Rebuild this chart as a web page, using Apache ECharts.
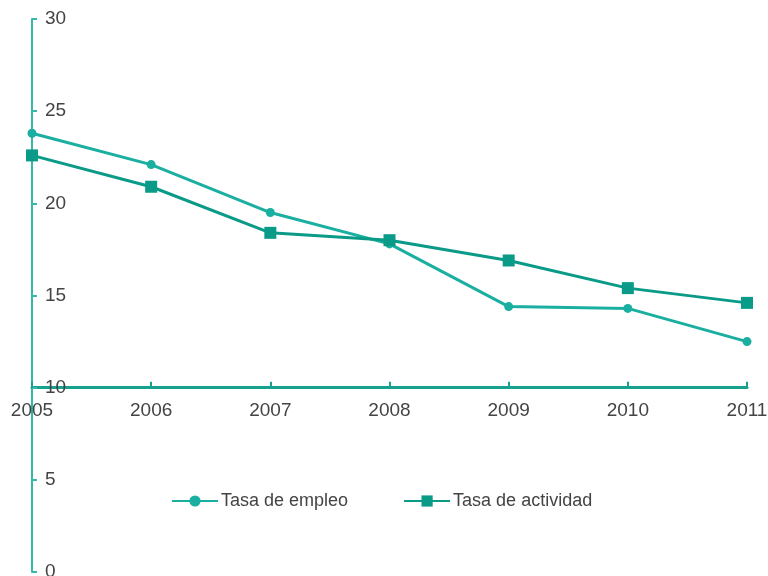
<!DOCTYPE html>
<html>
<head>
<meta charset="utf-8">
<script src="https://cdn.jsdelivr.net/npm/echarts@6/dist/echarts.min.js"></script>
<style>
  html, body { margin: 0; padding: 0; background: #fff; }
  #chart { width: 768px; height: 576px; }
</style>
</head>
<body>
<div id="chart"></div>
<script>
var years = ['2005', '2006', '2007', '2008', '2009', '2010', '2011'];
var empleo = [23.8, 22.1, 19.5, 17.8, 14.4, 14.3, 12.5];
var actividad = [22.6, 20.9, 18.4, 18.0, 16.9, 15.4, 14.6];
var yTicks = [0, 5, 10, 15, 20, 25, 30];

var myChart = echarts.init(document.getElementById('chart'));

// alto del grid en px, para bajar el eje x hasta el 10
var gridTop = 19, gridBottom = 4;
var gridH = 576 - gridTop - gridBottom;
var xOffset = -(10 / 30) * gridH;

var font = 'Liberation Sans';

var option = {
    animation: false,
    grid: { left: 32, right: 21, top: gridTop, bottom: gridBottom, containLabel: false, outerBoundsMode: 'none' },
    legend: {
        bottom: 61,
        left: 166,
        itemGap: 55,
        itemWidth: 46,
        itemHeight: 14,
        textStyle: { fontFamily: font, fontSize: 18, color: '#444', padding: [0, 0, 0, -2] },
        data: ['Tasa de empleo', 'Tasa de actividad']
    },
    xAxis: {
        type: 'category',
        data: years,
        boundaryGap: false,
        offset: xOffset,
        axisLine: { lineStyle: { color: '#17a290', width: 3 } },
        axisTick: { inside: true, length: 6, lineStyle: { color: '#17a290', width: 2 } },
        axisLabel: { margin: 14, fontFamily: font, fontSize: 19, color: '#444' },
        splitLine: { show: false }
    },
    yAxis: {
        type: 'value',
        min: 0,
        max: 30,
        interval: 5,
        axisLine: { show: true, lineStyle: { color: '#35b8a8', width: 2 } },
        axisTick: { show: true, inside: true, length: 5, lineStyle: { color: '#35b8a8', width: 2 } },
        axisLabel: {
            inside: true, margin: 13, fontFamily: font, fontSize: 19, color: '#444',
            formatter: function (v) { return yTicks.indexOf(v) >= 0 ? v : ''; }
        },
        splitLine: { show: false }
    },
    series: [{
        name: 'Tasa de empleo',
        type: 'line',
        data: empleo,
        symbol: 'circle',
        symbolSize: 9,
        lineStyle: { width: 3, color: '#1aafa0' },
        itemStyle: { color: '#1aafa0' }
    }, {
        name: 'Tasa de actividad',
        type: 'line',
        data: actividad,
        symbol: 'rect',
        symbolSize: 12,
        lineStyle: { width: 3, color: '#0a9a88' },
        itemStyle: { color: '#0a9a88' }
    }]
};

myChart.setOption(option);
</script>
</body>
</html>
